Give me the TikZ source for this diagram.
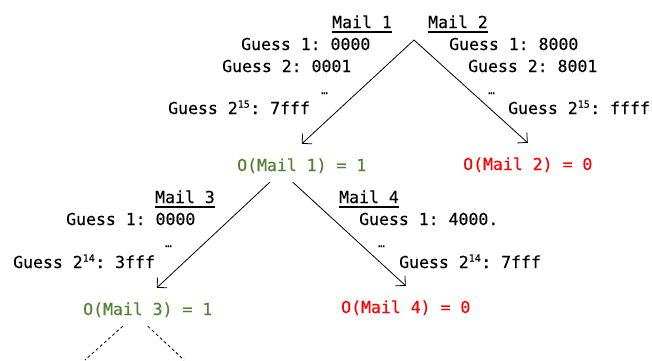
\documentclass[tikz,border=0pt]{standalone}
\usepackage{fontspec}
\newfontfamily\mailfont[FakeBold=0.4]{DejaVu Sans Mono}
\usepackage{xcolor}
\usetikzlibrary{arrows.meta}
\definecolor{okgreen}{RGB}{84,130,53}
\definecolor{badred}{RGB}{255,0,0}
\newcommand{\mailhead}[1]{\setbox0\hbox{#1}\rlap{\rule[-4.5pt]{\wd0}{1.3pt}}\box0}
\newcommand{\pw}[1]{2\textsuperscript{\fontsize{10}{10}\selectfont #1}}
\frenchspacing

\begin{document}
\begin{tikzpicture}[x=1pt,y=-1pt,
  txt/.style={anchor=base west, inner sep=0pt, font=\mailfont\fontsize{16.5}{18}\selectfont},
  dots/.style={anchor=base west, inner sep=0pt, font=\mailfont\fontsize{11}{12}\selectfont},
  outcome/.style={txt, text height=19pt, text depth=3pt, inner ysep=8pt},
  arr/.style={line width=0.8pt, -{Straight Barb[length=7pt,width=14pt]}},
  branch/.style={line width=0.8pt, dash pattern=on 3pt off 2.5pt}]
\useasboundingbox (0,0) rectangle (652,360);

% guesses, first level
{
\node[txt] (mailA) at (332,28) {\mailhead{Mail 1}};
\node[txt] (mailAfirst) at (241,50) {Guess 1: 0000};
\node[txt] (mailAsecond) at (222,72) {Guess 2: 0001};
\node[dots] (mailAdots) at (321,94) {…};
\node[txt] (mailAlast) at (168,114) {Guess \pw{15}: 7fff};

\node[txt] (mailB) at (428,28) {\mailhead{Mail 2}};
\node[txt] (mailBfirst) at (449,50) {Guess 1: 8000};
\node[txt] (mailBsecond) at (468,72) {Guess 2: 8001};
\node[dots] (mailBdots) at (488,94) {…};
\node[txt] (mailBlast) at (508,114) {Guess \pw{15}: ffff};
}

% guesses, second level
{
\node[txt] (mailC) at (155,203) {\mailhead{Mail 3}};
\node[txt] (mailCfirst) at (66,225) {Guess 1: 0000};
\node[dots] (mailCdots) at (165,247) {…};
\node[txt] (mailClast) at (13,268) {Guess \pw{14}: 3fff};

\node[txt] (mailD) at (339,203) {\mailhead{Mail 4}};
\node[txt] (mailDfirst) at (359,225) {Guess 1: 4000.};
\node[dots] (mailDdots) at (378,247) {…};
\node[txt] (mailDlast) at (399,268) {Guess \pw{14}: 7fff};
}

% outcomes
\node[outcome, okgreen] (outA) at (237,171) {O(Mail 1) = 1};
\node[outcome, badred] (outB) at (463,170) {O(Mail 2) = 0};
\node[outcome, okgreen] (outC) at (83,315) {O(Mail 3) = 1};
\node[outcome, badred] (outD) at (341,313) {O(Mail 4) = 0};

% tree
\coordinate (root) at (414,40);
\coordinate (leafL) at (85,360);
\coordinate (leafR) at (184,360);

\draw[arr] (root) -- (outA.north);
\draw[arr] (root) -- (outB.north);
\draw[arr] ([xshift=-32pt]outA.south) -- ([xshift=9pt]outC.north);
\draw[arr] ([xshift=-9pt]outA.south) -- (outD.north);
\draw[branch] ([xshift=-25pt]outC.south) -- (leafL);
\draw[branch] (outC.south) -- (leafR);

\end{tikzpicture}
\end{document}
